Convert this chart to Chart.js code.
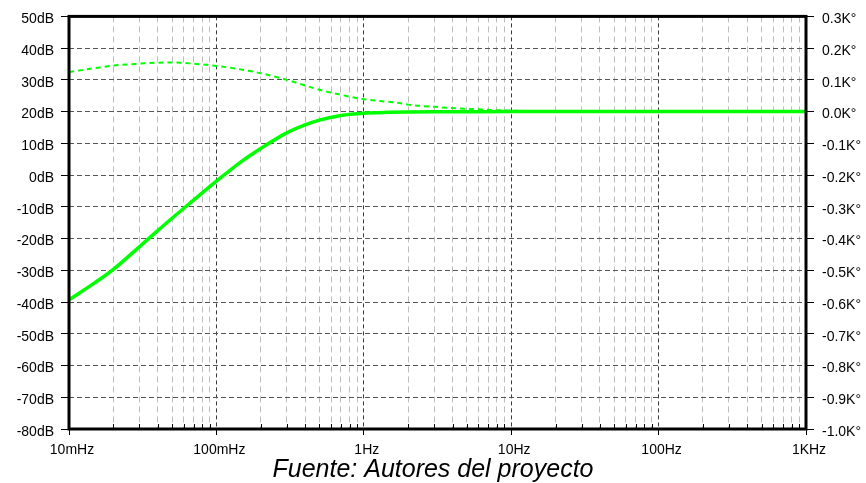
<!DOCTYPE html>
<html>
<head>
<meta charset="utf-8">
<script src="https://cdn.jsdelivr.net/npm/chart.js@4/dist/chart.umd.min.js"></script>
<style>
  html, body { margin: 0; padding: 0; background: #ffffff; }
  canvas { display: block; }
</style>
</head>
<body>
<canvas id="c" width="866" height="483"></canvas>
<script>
// ---- data ----
const freqHz = [0.01, 0.015, 0.02, 0.03, 0.04, 0.05, 0.07, 0.1, 0.15, 0.2, 0.3, 0.4, 0.5, 0.7, 1, 1.5, 2, 3, 5, 10, 20, 100, 1000];
const magnitudeDb = [-39.3, -33.9, -29.7, -22.6, -17.5, -13.6, -7.9, -1.9, 4.5, 8.4, 13.3, 15.8, 17.3, 18.8, 19.5, 19.78, 19.88, 19.95, 19.98, 20, 20, 20, 20];

const phaseFreqHz = [0.01, 0.015, 0.02, 0.03, 0.04, 0.05, 0.07, 0.1, 0.13, 0.15, 0.2, 0.3, 0.5, 0.7, 1, 1.75, 2, 3, 5, 10, 20, 100, 1000];
const phaseKdeg = [0.125, 0.137, 0.145, 0.151, 0.154, 0.155, 0.151, 0.144, 0.137, 0.132, 0.121, 0.100, 0.069, 0.053, 0.039, 0.027, 0.022, 0.015, 0.009, 0.003, 0.001, 0, 0];

const decadeHz = [0.01, 0.1, 1, 10, 100, 1000];
const decadeLabels = ['10mHz', '100mHz', '1Hz', '10Hz', '100Hz', '1KHz'];
const minorMultipliers = [2, 3, 4, 5, 6, 7, 8, 9];

const dbTicks = [50, 40, 30, 20, 10, 0, -10, -20, -30, -40, -50, -60, -70, -80];
const dbTickLabels = ['50dB', '40dB', '30dB', '20dB', '10dB', '0dB', '-10dB', '-20dB', '-30dB', '-40dB', '-50dB', '-60dB', '-70dB', '-80dB'];
const phaseTicks = [0.3, 0.2, 0.1, 0.0, -0.1, -0.2, -0.3, -0.4, -0.5, -0.6, -0.7, -0.8, -0.9, -1.0];
const phaseTickLabels = ['0.3K°', '0.2K°', '0.1K°', '0.0K°', '-0.1K°', '-0.2K°', '-0.3K°', '-0.4K°', '-0.5K°', '-0.6K°', '-0.7K°', '-0.8K°', '-0.9K°', '-1.0K°'];

const chartTitle = 'Fuente: Autores del proyecto';

// ---- helpers ----
const xTickValues = [];
decadeHz.forEach((d, i) => {
  xTickValues.push(d);
  if (i < decadeHz.length - 1) minorMultipliers.forEach(m => xTickValues.push(d * m));
});
function decadeIndex(v) {
  for (let i = 0; i < decadeHz.length; i++) {
    if (Math.abs(Math.log10(v) - Math.log10(decadeHz[i])) < 1e-6) return i;
  }
  return -1;
}
function nearestIndex(arr, v) {
  let best = 0;
  for (let i = 1; i < arr.length; i++) if (Math.abs(arr[i] - v) < Math.abs(arr[best] - v)) best = i;
  return best;
}

const FONT = "'Liberation Sans', Arial, sans-serif";

const framePlugin = {
  id: 'frame',
  afterDraw(chart) {
    const { ctx, chartArea: a, scales } = chart;
    ctx.save();
    // inward minor ticks on the bottom axis
    ctx.strokeStyle = '#000';
    ctx.lineWidth = 1;
    const xs = scales.x;
    xTickValues.forEach(v => {
      if (decadeIndex(v) >= 0) return;
      const px = Math.round(xs.getPixelForValue(v)) + 0.5;
      ctx.beginPath();
      ctx.moveTo(px, a.bottom);
      ctx.lineTo(px, a.bottom - 5);
      ctx.stroke();
    });
    // plot frame
    ctx.lineWidth = 3;
    ctx.strokeStyle = '#000';
    ctx.strokeRect(a.left, a.top, a.right - a.left, a.bottom - a.top);
    ctx.restore();
  }
};

new Chart(document.getElementById('c'), {
  type: 'line',
  data: {
    datasets: [
      {
        label: 'Magnitude',
        data: freqHz.map((f, i) => ({ x: f, y: magnitudeDb[i] })),
        yAxisID: 'y',
        borderColor: '#00ff00',
        borderWidth: 3.5,
        pointRadius: 0,
        cubicInterpolationMode: 'monotone',
        fill: false
      },
      {
        label: 'Phase',
        data: phaseFreqHz.map((f, i) => ({ x: f, y: phaseKdeg[i] })),
        yAxisID: 'y2',
        borderColor: '#00ff00',
        borderWidth: 2,
        borderDash: [5, 4],
        pointRadius: 0,
        cubicInterpolationMode: 'monotone',
        fill: false
      }
    ]
  },
  options: {
    responsive: false,
    animation: false,
    devicePixelRatio: 1,
    layout: { padding: { top: 16, left: 0, right: 0, bottom: 0 } },
    plugins: {
      legend: { display: false },
      tooltip: { enabled: false },
      title: {
        display: true,
        position: 'bottom',
        text: chartTitle,
        color: '#000',
        font: { family: FONT, size: 25, style: 'italic', weight: 'normal', lineHeight: 1.0 },
        padding: { top: 0, bottom: 0 }
      }
    },
    scales: {
      x: {
        type: 'logarithmic',
        position: 'bottom',
        min: 0.01,
        max: 1000,
        afterBuildTicks(scale) { scale.ticks = xTickValues.map(v => ({ value: v })); },
        afterFit(scale) { scale.height = 29; },
        ticks: {
          autoSkip: false,
          maxRotation: 0,
          minRotation: 0,
          padding: 7,
          labelOffset: 3,
          color: '#000',
          font: { family: FONT, size: 14 },
          callback(value) {
            const i = decadeIndex(value);
            return i >= 0 ? decadeLabels[i] : '';
          }
        },
        grid: {
          drawOnChartArea: true,
          tickLength: 6,
          lineWidth: 1,
          color: ctx => (ctx.tick && decadeIndex(ctx.tick.value) >= 0) ? '#3a3a3a' : '#bdbdbd',
          tickColor: ctx => (ctx.tick && decadeIndex(ctx.tick.value) >= 0) ? '#000' : 'rgba(0,0,0,0)'
        },
        border: {
          display: false,
          dash: ctx => (ctx.tick && decadeIndex(ctx.tick.value) >= 0) ? [4, 3] : [6, 4]
        }
      },
      y: {
        type: 'linear',
        position: 'left',
        min: -80,
        max: 50,
        afterBuildTicks(scale) { scale.ticks = dbTicks.map(v => ({ value: v })); },
        afterFit(scale) { scale.width = 69; },
        ticks: {
          padding: 7,
          labelOffset: 3,
          color: '#000',
          font: { family: FONT, size: 14 },
          callback(value) { return dbTickLabels[nearestIndex(dbTicks, value)]; }
        },
        grid: {
          drawOnChartArea: true,
          tickLength: 8,
          lineWidth: 1,
          color: '#555555',
          tickColor: '#000'
        },
        border: { display: false, dash: [5, 3] }
      },
      y2: {
        type: 'linear',
        position: 'right',
        min: -1.0,
        max: 0.3,
        afterBuildTicks(scale) { scale.ticks = phaseTicks.map(v => ({ value: v })); },
        afterFit(scale) { scale.width = 60; },
        ticks: {
          padding: 8,
          labelOffset: 3,
          color: '#000',
          font: { family: FONT, size: 14 },
          callback(value) { return phaseTickLabels[nearestIndex(phaseTicks, value)]; }
        },
        grid: {
          drawOnChartArea: false,
          tickLength: 8,
          tickColor: '#000'
        },
        border: { display: false }
      }
    }
  },
  plugins: [framePlugin]
});
</script>
</body>
</html>
